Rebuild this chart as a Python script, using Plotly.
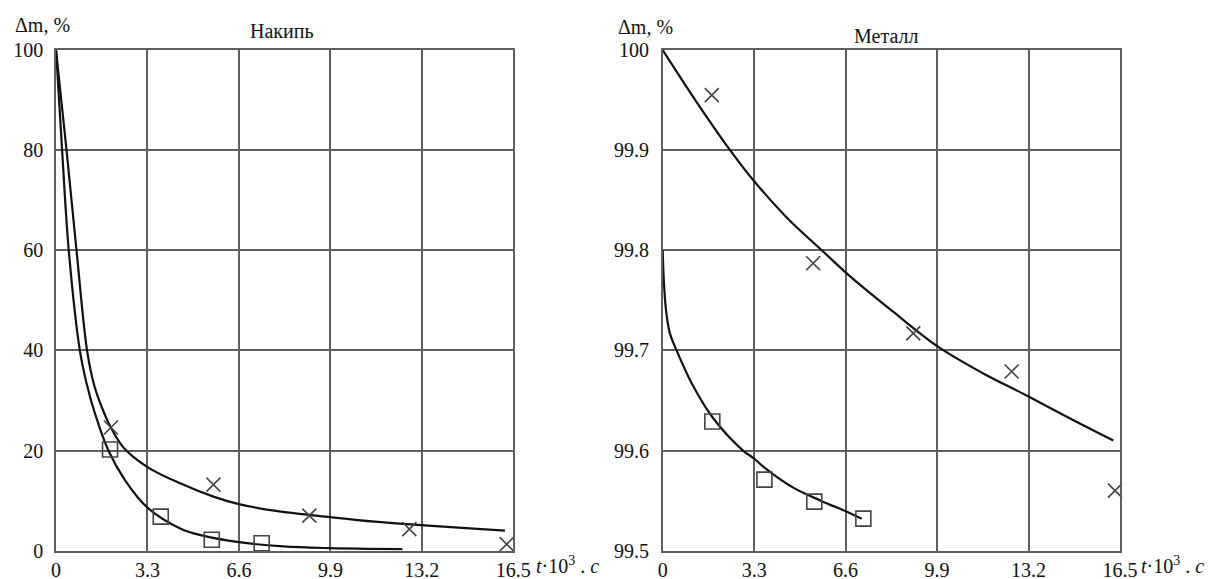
import plotly.graph_objects as go

# ---------------- data ----------------
x_ticks = [0, 3.3, 6.6, 9.9, 13.2, 16.5]
x_tick_text = ["0", "3.3", "6.6", "9.9", "13.2", "16.5"]
y_ticks_scale = [0, 20, 40, 60, 80, 100]
y_ticks_metal = [99.5, 99.6, 99.7, 99.8, 99.9, 100]
y_text_metal = ["99.5", "99.6", "99.7", "99.8", "99.9", "100"]

# Накипь (scale)
scale_cross_t = [1.98, 5.68, 9.14, 12.75, 16.26]
scale_cross_v = [24.6, 13.2, 7.0, 4.3, 1.3]
scale_sq_t = [1.95, 3.78, 5.62, 7.42]
scale_sq_v = [20.2, 6.8, 2.2, 1.5]
scale_fit_upper_t = [0, 0.38, 0.74, 1.12, 1.38, 1.7, 1.98, 2.45, 3.3, 4.5, 5.68, 6.6, 8.0, 9.9, 11.5, 13.2, 14.8, 16.2]
scale_fit_upper_v = [100, 80, 60, 40, 33, 28, 24.6, 20.5, 16.7, 13.4, 10.8, 9.3, 7.9, 6.7, 5.8, 5.1, 4.5, 4.0]
scale_fit_lower_t = [0, 0.22, 0.46, 0.86, 1.1, 1.4, 1.89, 2.5, 3.3, 4.5, 5.3, 6.6, 8.2, 9.9, 11.2, 12.5]
scale_fit_lower_v = [100, 80, 60, 40, 33.5, 27.5, 20, 14, 8.6, 4.4, 3.0, 1.7, 0.85, 0.5, 0.38, 0.3]

# Металл (metal)
metal_cross_t = [1.77, 5.43, 9.04, 12.59, 16.32]
metal_cross_v = [99.955, 99.787, 99.717, 99.679, 99.56]
metal_sq_t = [1.79, 3.67, 5.47, 7.24]
metal_sq_v = [99.629, 99.571, 99.549, 99.532]
metal_fit_upper_t = [0, 1.2, 2.43, 3.27, 4.5, 5.74, 6.72, 8.3, 9.92, 11.5, 13.2, 14.7, 16.26]
metal_fit_upper_v = [100, 99.949, 99.9, 99.87, 99.832, 99.8, 99.775, 99.739, 99.704, 99.678, 99.654, 99.632, 99.61]
metal_fit_lower_t = [0, 0.04, 0.12, 0.25, 0.5, 1.05, 1.83, 2.9, 3.3, 3.67, 4.71, 5.7, 6.72, 7.18]
metal_fit_lower_v = [99.8, 99.77, 99.74, 99.718, 99.7, 99.667, 99.632, 99.6, 99.592, 99.583, 99.563, 99.55, 99.538, 99.532]

# ---------------- styling ----------------
OFF = 8                      # page body margin of the browser
W, H = 1215 - OFF, 579 - OFF  # figure size so that it fills the window
FONT = "Liberation Serif"
GRID = "#5f5f5f"
LINE = "#111111"
MARK = "#444444"

fig = go.Figure()

def add_panel(xa, ya, fit_u_t, fit_u_v, fit_l_t, fit_l_v, cr_t, cr_v, sq_t, sq_v):
    for t, v in ((fit_u_t, fit_u_v), (fit_l_t, fit_l_v)):
        fig.add_trace(go.Scatter(x=t, y=v, mode="lines", xaxis=xa, yaxis=ya,
                                 line=dict(color=LINE, width=2.2, shape="spline", smoothing=1.0),
                                 showlegend=False, hoverinfo="skip"))
    fig.add_trace(go.Scatter(x=cr_t, y=cr_v, mode="markers", xaxis=xa, yaxis=ya, cliponaxis=False,
                             marker=dict(symbol="x-thin", size=14, line=dict(color=MARK, width=1.6)),
                             showlegend=False))
    fig.add_trace(go.Scatter(x=sq_t, y=sq_v, mode="markers", xaxis=xa, yaxis=ya, cliponaxis=False,
                             marker=dict(symbol="square-open", size=15, color=MARK, line=dict(color=MARK, width=1.6)),
                             showlegend=False))

add_panel("x", "y", scale_fit_upper_t, scale_fit_upper_v, scale_fit_lower_t, scale_fit_lower_v,
          scale_cross_t, scale_cross_v, scale_sq_t, scale_sq_v)
add_panel("x2", "y2", metal_fit_upper_t, metal_fit_upper_v, metal_fit_lower_t, metal_fit_lower_v,
          metal_cross_t, metal_cross_v, metal_sq_t, metal_sq_v)

def px_x(p):
    return (p - OFF) / W

def px_y(p):
    return 1 - (p - OFF) / H

left_dom = [px_x(56), px_x(513.3)]
right_dom = [px_x(662.7), px_x(1120)]
y_dom = [px_y(550.7), px_y(50)]

axis_common = dict(showgrid=True, gridcolor=GRID, gridwidth=1.6, showline=True, linecolor=GRID,
                   linewidth=1.6, mirror=True, zeroline=False, ticks="", automargin=False,
                   tickfont=dict(family=FONT, size=20, color="#111"))

fig.update_layout(
    width=W, height=H, margin=dict(l=0, r=0, t=0, b=0, autoexpand=False),
    paper_bgcolor="white", plot_bgcolor="white",
    font=dict(family=FONT, color="#111"),
    xaxis=dict(domain=left_dom, anchor="y", range=[0, 16.5], tickvals=x_ticks, ticktext=x_tick_text,
               ticklabelstandoff=0, **axis_common),
    yaxis=dict(domain=y_dom, anchor="x", range=[0, 100], tickvals=y_ticks_scale,
               ticklabelstandoff=7, **axis_common),
    xaxis2=dict(domain=right_dom, anchor="y2", range=[0, 16.5], tickvals=x_ticks, ticktext=x_tick_text,
                ticklabelstandoff=0, **axis_common),
    yaxis2=dict(domain=y_dom, anchor="x2", range=[99.5, 100], tickvals=y_ticks_metal, ticktext=y_text_metal,
                ticklabelstandoff=8, **axis_common),
)

def ann(text, x_px, y_px, xanchor="center", size=20):
    fig.add_annotation(text=text, x=px_x(x_px), y=px_y(y_px), xref="paper", yref="paper",
                       xanchor=xanchor, yanchor="middle", showarrow=False,
                       font=dict(family=FONT, size=size, color="#111"))

ann("Δm, %", 42, 25)
ann("Накипь", 282, 31)
ann("<i>t</i>·10<sup>3</sup> . <i>c</i>", 534, 565, xanchor="left")
ann("Δm, %", 645, 27)
ann("Металл", 886, 36)
ann("<i>t</i>·10<sup>3</sup> . <i>c</i>", 1139, 565, xanchor="left")

fig.write_html("out.html")
